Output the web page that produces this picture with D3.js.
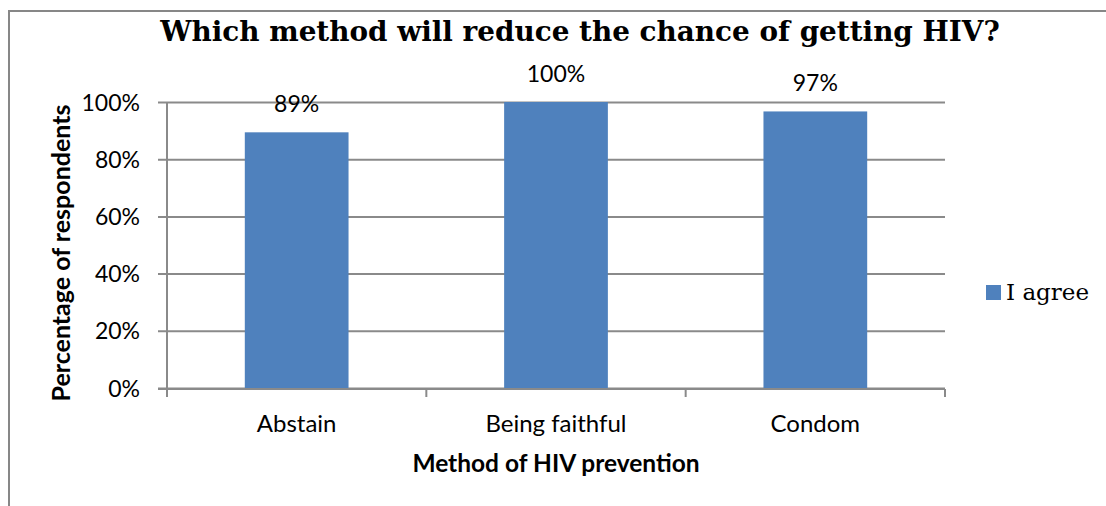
<!DOCTYPE html>
<html>
<head>
<meta charset="utf-8">
<script src="https://cdn.jsdelivr.net/npm/d3@7"></script>
<style>
  body { margin: 0; background: #fff; }
  svg text { fill: #000; }
</style>
</head>
<body>
<div id="container"></div>
<script>
// data
var categories = ["Abstain", "Being faithful", "Condom"];
var agreeValues = [0.894, 1.0, 0.967];
var valueLabels = ["89%", "100%", "97%"];
var yTicks = [0, 0.2, 0.4, 0.6, 0.8, 1.0];
var seriesName = "I agree";

var width = 1106, height = 506;
var plot = { left: 167, right: 945, top: 102, bottom: 388 };
var sans = "Lato, 'Open Sans', sans-serif";

var svg = d3.select("#container").append("svg")
  .attr("width", width)
  .attr("height", height);

// outer chart border (runs off the bottom/right of the picture)
svg.append("rect")
  .attr("x", 9).attr("y", 11)
  .attr("width", 1120).attr("height", 520)
  .attr("fill", "none")
  .attr("stroke", "#878787")
  .attr("stroke-width", 2);

var x = d3.scaleBand()
  .domain(categories)
  .range([plot.left, plot.right])
  .paddingInner(0.6)
  .paddingOuter(0.3);

var y = d3.scaleLinear().domain([0, 1]).range([plot.bottom, plot.top]);

// gridlines + y ticks
var yAxis = d3.axisLeft(y)
  .tickValues(yTicks)
  .tickFormat(d3.format(".0%"))
  .tickSize(-(plot.right - plot.left));

var gy = svg.append("g")
  .attr("transform", "translate(" + plot.left + ",0)")
  .call(yAxis);
gy.select(".domain").remove();
gy.selectAll(".tick line")
  .attr("x1", -9)
  .attr("stroke", "#8a8a8a")
  .attr("stroke-width", 2);
gy.selectAll(".tick text")
  .attr("font-family", sans)
  .attr("font-size", 23)
  .attr("dy", "0.35em")
  .attr("x", -27);

// y axis line
svg.append("line")
  .attr("x1", plot.left).attr("x2", plot.left)
  .attr("y1", plot.top).attr("y2", plot.bottom)
  .attr("stroke", "#8a8a8a").attr("stroke-width", 2);

// bars
svg.selectAll("rect.bar")
  .data(agreeValues)
  .enter().append("rect")
  .attr("class", "bar")
  .attr("x", function(d, i) { return x(categories[i]); })
  .attr("width", x.bandwidth())
  .attr("y", function(d) { return y(d); })
  .attr("height", function(d) { return y(0) - y(d); })
  .attr("fill", "#4f81bd");

// value labels
svg.selectAll("text.val")
  .data(agreeValues)
  .enter().append("text")
  .attr("class", "val")
  .attr("x", function(d, i) { return x(categories[i]) + x.bandwidth() / 2; })
  .attr("y", function(d) { return y(d) - 20; })
  .attr("text-anchor", "middle")
  .attr("font-family", sans)
  .attr("font-size", 23)
  .text(function(d, i) { return valueLabels[i]; });

// x axis line + category boundary ticks
var step = x.step();
var bounds = categories.map(function(c) { return x(c) - step * x.paddingInner() / 2; });
bounds.push(bounds[bounds.length - 1] + step);

svg.append("line")
  .attr("x1", plot.left - 9).attr("x2", bounds[bounds.length - 1])
  .attr("y1", plot.bottom + 1).attr("y2", plot.bottom + 1)
  .attr("stroke", "#8a8a8a").attr("stroke-width", 2);

svg.selectAll("line.xtick")
  .data(bounds)
  .enter().append("line")
  .attr("class", "xtick")
  .attr("x1", function(d) { return d; }).attr("x2", function(d) { return d; })
  .attr("y1", plot.bottom + 1).attr("y2", plot.bottom + 9)
  .attr("stroke", "#8a8a8a").attr("stroke-width", 2);

svg.selectAll("text.cat")
  .data(categories)
  .enter().append("text")
  .attr("class", "cat")
  .attr("x", function(d) { return x(d) + x.bandwidth() / 2; })
  .attr("y", 432)
  .attr("text-anchor", "middle")
  .attr("font-family", sans)
  .attr("font-size", 24)
  .text(function(d) { return d; });

// axis titles
svg.append("text")
  .attr("x", 556).attr("y", 472)
  .attr("text-anchor", "middle")
  .attr("font-family", sans)
  .attr("font-weight", "bold")
  .attr("font-size", 24.5)
  .text("Method of HIV prevention");

svg.append("text")
  .attr("transform", "translate(70,253) rotate(-90)")
  .attr("text-anchor", "middle")
  .attr("font-family", sans)
  .attr("font-weight", "bold")
  .attr("font-size", 25)
  .text("Percentage of respondents");

// title
var title = svg.append("text")
  .attr("x", 580).attr("y", 41)
  .attr("text-anchor", "middle")
  .attr("font-family", "'DejaVu Serif', serif")
  .attr("font-weight", "bold")
  .attr("font-size", 26)
  .text("Which method will reduce the chance of getting HIV?");
var tw = title.node().getComputedTextLength();
if (tw > 0) title.attr("font-size", 26 * 840 / tw);

// legend
svg.append("rect")
  .attr("x", 986).attr("y", 285)
  .attr("width", 15).attr("height", 15)
  .attr("fill", "#4f81bd");
svg.append("text")
  .attr("x", 1006).attr("y", 300)
  .attr("font-family", "'DejaVu Serif', serif")
  .attr("font-size", 23)
  .text(seriesName);
</script>
</body>
</html>
